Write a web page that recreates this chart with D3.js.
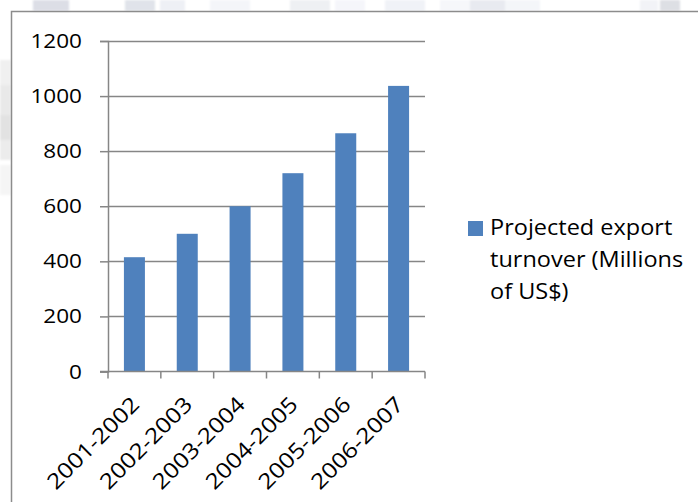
<!DOCTYPE html>
<html>
<head>
<meta charset="utf-8">
<script src="https://cdn.jsdelivr.net/npm/d3@7"></script>
<style>
  html, body { margin: 0; padding: 0; background: #fff; }
  svg { display: block; }
  text { font-family: "Open Sans", sans-serif; fill: #000; }
</style>
</head>
<body>
<svg id="chart" width="698" height="502"></svg>
<script>
const categories = ["2001-2002", "2002-2003", "2003-2004", "2004-2005", "2005-2006", "2006-2007"];
const values = [415, 500, 600, 720, 865, 1037];
const yTicks = [0, 200, 400, 600, 800, 1000, 1200];
const legendLines = ["Projected export", "turnover (Millions", "of US$)"];

const svg = d3.select("#chart");
const axisColor = "#868686";
const barColor = "#4F81BD";

// soft page texture around the chart frame
const defs = svg.append("defs");
defs.append("filter").attr("id", "soft").append("feGaussianBlur").attr("stdDeviation", 1);
const haze = svg.append("g").attr("filter", "url(#soft)");
[[33, 0, 36, 11, "#dcdee6"], [125, 0, 30, 11, "#e0e3ea"], [160, 0, 25, 11, "#eef0f5"],
 [210, 0, 40, 11, "#f4f5f9"], [290, 0, 40, 11, "#eef0f3"], [335, 0, 30, 11, "#f5f6fa"],
 [385, 0, 40, 11, "#f0f2f7"], [440, 0, 30, 11, "#f6f7fa"], [470, 0, 35, 11, "#e8eaf0"],
 [505, 0, 35, 11, "#f4f6f9"], [640, 0, 18, 11, "#f2f3f7"], [660, 0, 20, 11, "#dddfe4"],
 [0, 60, 11, 25, "#f0f0f0"], [0, 85, 11, 30, "#e9e9e9"], [0, 115, 11, 25, "#e2e2e2"],
 [0, 140, 11, 20, "#ececec"], [0, 165, 11, 30, "#f5f5f5"]]
  .forEach(([x, y, w, h, c]) => haze.append("rect").attr("x", x).attr("y", y).attr("width", w).attr("height", h).attr("fill", c));

// chart frame
svg.append("path")
  .attr("d", "M11.5,502 V11.5 H698")
  .attr("fill", "none").attr("stroke", "#8c8c8c").attr("stroke-width", 1.5);

const plot = { left: 108, right: 425, top: 41, bottom: 371.5 };

const band = d3.scaleBand().domain(categories).range([plot.left, plot.right]);
const y = d3.scaleLinear().domain([0, 1200]).range([plot.bottom, plot.top]);

// gridlines
svg.append("g").selectAll("line").data(yTicks.filter(d => d > 0)).join("line")
  .attr("x1", plot.left).attr("x2", plot.right)
  .attr("y1", d => Math.round(y(d)) + 0.5).attr("y2", d => Math.round(y(d)) + 0.5)
  .attr("stroke", axisColor).attr("stroke-width", 1.5);

// bars
svg.append("g").selectAll("rect").data(values).join("rect")
  .attr("x", (d, i) => band(categories[i]) + band.bandwidth() / 2 - 10.5)
  .attr("width", 21)
  .attr("y", d => y(d))
  .attr("height", d => plot.bottom - y(d))
  .attr("fill", barColor);

// y axis
const yAxis = svg.append("g").attr("transform", `translate(${plot.left},0)`)
  .call(d3.axisLeft(y).tickValues(yTicks).tickSize(8).tickPadding(0).tickFormat(d3.format("d")));
yAxis.select(".domain").attr("stroke", axisColor).attr("stroke-width", 1.5);
yAxis.selectAll(".tick line").attr("stroke", axisColor).attr("stroke-width", 1.5);
yAxis.selectAll(".tick text")
  .attr("x", 0)
  .attr("transform", "translate(-26,0) scale(1.1,1)")
  .attr("font-size", 20.5).attr("font-family", "'Open Sans', sans-serif").attr("fill", "#000");

// x axis: category boundaries carry ticks
const xg = svg.append("g").attr("transform", `translate(0,${plot.bottom})`);
xg.append("line").attr("x1", plot.left - 8).attr("x2", plot.right)
  .attr("stroke", axisColor).attr("stroke-width", 1.5);
const boundaries = categories.map(c => band(c)).concat([plot.right]);
xg.selectAll(".b").data(boundaries).join("line").attr("class", "b")
  .attr("x1", d => d).attr("x2", d => d).attr("y1", 0).attr("y2", 7)
  .attr("stroke", axisColor).attr("stroke-width", 1.5);
xg.selectAll(".lbl").data(categories).join("text").attr("class", "lbl")
  .attr("transform", c => `translate(${band(c) + band.bandwidth() / 2 + 1},29) rotate(-45) scale(1.14,1)`)
  .attr("text-anchor", "end")
  .attr("dy", "0.35em")
  .attr("font-size", 21.5)
  .text(c => c);

// legend
const lg = svg.append("g").attr("transform", "translate(468,221)");
lg.append("rect").attr("width", 15).attr("height", 15).attr("fill", barColor);
lg.selectAll("text").data(legendLines).join("text")
  .attr("transform", (d, i) => `translate(22,${14 + i * 32}) scale(1.12,1)`)
  .attr("font-size", 21)
  .text(d => d);
</script>
</body>
</html>
